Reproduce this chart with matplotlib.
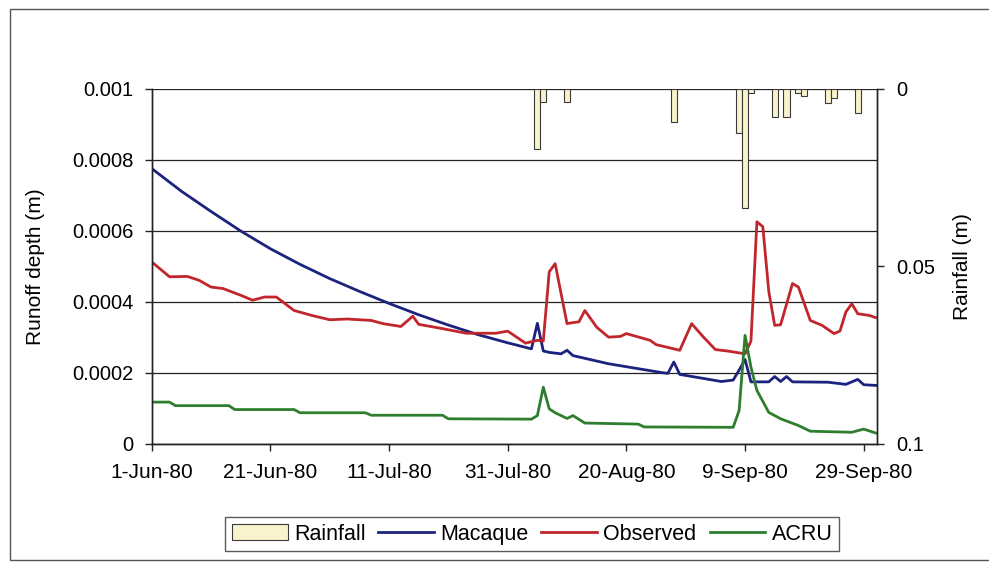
import matplotlib
matplotlib.use('Agg')
import matplotlib.pyplot as plt
import matplotlib.dates as mdates
from matplotlib.patches import Rectangle
from matplotlib.ticker import FixedLocator, FuncFormatter
import pandas as pd

plt.rcParams['font.family'] = ['Liberation Sans', 'DejaVu Sans']

start = pd.Timestamp('1980-06-01')

# days after 1-Jun-80 and values (m)
mac_days = [0, 5, 10, 15, 20, 25, 30, 35, 40, 45, 50, 55, 60, 64, 65, 66, 67, 69, 70, 71,
            77, 86, 87, 88, 89, 96, 98, 99, 100, 101, 104, 105, 106, 107, 108, 114, 117,
            119, 120, 122]
mac_vals = [0.000776, 0.000712, 0.000655, 0.000600, 0.000550, 0.000506, 0.000466, 0.000430,
            0.000396, 0.000364, 0.000335, 0.000308, 0.000285, 0.000268, 0.000340, 0.000262,
            0.000258, 0.000254, 0.000264, 0.000249, 0.000226, 0.000201, 0.000199, 0.000231,
            0.000196, 0.000176, 0.000180, 0.000208, 0.000238, 0.000175, 0.000175, 0.000190,
            0.000176, 0.000190, 0.000175, 0.000174, 0.000168, 0.000182, 0.000167, 0.000165]

obs_days = [0, 3, 6, 8, 10, 12, 15, 17, 19, 21, 24, 27, 30, 33, 37, 39, 42, 44, 45, 49, 53,
            58, 60, 63, 65, 66, 67, 68, 70, 71, 72, 73, 75, 77, 79, 80, 84, 85, 89, 91, 93,
            95, 97, 100, 101, 102, 103, 104, 105, 106, 108, 109, 111, 113, 115, 116, 117,
            118, 119, 121, 122]
obs_vals = [0.000513, 0.000471, 0.000472, 0.000461, 0.000442, 0.000438, 0.000419, 0.000405,
            0.000414, 0.000414, 0.000376, 0.000362, 0.000350, 0.000352, 0.000348, 0.000339,
            0.000331, 0.000360, 0.000337, 0.000325, 0.000312, 0.000312, 0.000318, 0.000284,
            0.000292, 0.000290, 0.000485, 0.000508, 0.000339, 0.000342, 0.000344, 0.000376,
            0.000329, 0.000301, 0.000303, 0.000311, 0.000292, 0.000280, 0.000264, 0.000339,
            0.000301, 0.000266, 0.000262, 0.000254, 0.000290, 0.000626, 0.000612, 0.000430,
            0.000334, 0.000336, 0.000452, 0.000442, 0.000348, 0.000334, 0.000311, 0.000318,
            0.000372, 0.000395, 0.000367, 0.000362, 0.000356]

acru_days = [0, 3, 4, 13, 14, 24, 25, 36, 37, 49, 50, 64, 65, 66, 67, 68, 70, 71, 73, 82,
             83, 98, 99, 100, 101, 102, 104, 106, 109, 111, 118, 120, 122]
acru_vals = [0.000118, 0.000118, 0.000108, 0.000108, 0.000097, 0.000097, 0.000088, 0.000088,
             0.000081, 0.000081, 0.000071, 0.000070, 0.000080, 0.000160, 0.000099, 0.000088,
             0.000072, 0.000080, 0.000059, 0.000056, 0.000048, 0.000047, 0.000094, 0.000306,
             0.000216, 0.000151, 0.000089, 0.000071, 0.000052, 0.000036, 0.000033, 0.000042,
             0.000031]

rain_days = [65, 66, 70, 88, 99, 100, 101, 105, 107, 109, 110, 114, 115, 119]
rain_vals = [0.0169, 0.0036, 0.0038, 0.0092, 0.0125, 0.0335, 0.0012, 0.0080, 0.0080,
             0.0011, 0.0019, 0.0040, 0.0026, 0.0069]

left_ticks = [0, 0.0002, 0.0004, 0.0006, 0.0008, 0.001]
right_ticks = [0, 0.05, 0.1]
date_ticks = pd.date_range(start, periods=7, freq='20D')


def to_dates(days):
    return start + pd.to_timedelta(days, unit='D')


fig = plt.figure(figsize=(9.89, 5.69), dpi=100)
fig.patches.append(Rectangle((0.0101, 0.0158), 1.2, 0.968, transform=fig.transFigure,
                             fill=False, edgecolor='#555555', linewidth=1.0, clip_on=False))

ax = fig.add_axes([0.1534, 0.2197, 0.7331, 0.6239])
ax2 = ax.twinx()

ax.plot(to_dates(mac_days), mac_vals, color='#1c237f', lw=2.0, label='Macaque')
ax.plot(to_dates(obs_days), obs_vals, color='#c0262b', lw=2.0, label='Observed')
ax.plot(to_dates(acru_days), acru_vals, color='#2f7d2f', lw=2.0, label='ACRU')

ax2.bar(to_dates(rain_days), rain_vals, width=1.05, color='#f8f3cc', edgecolor='#3a3a3a',
        linewidth=0.8, label='Rainfall')

ax.set_ylim(0, 0.001)
ax2.set_ylim(0.1, 0)
ax.set_xlim(start, start + pd.Timedelta(days=122.2))

ax.yaxis.set_major_locator(FixedLocator(left_ticks))
ax.yaxis.set_major_formatter(FuncFormatter(lambda v, p: '%g' % v))
ax2.yaxis.set_major_locator(FixedLocator(right_ticks))
ax2.yaxis.set_major_formatter(FuncFormatter(lambda v, p: '%g' % v))
ax.set_xticks(date_ticks)
ax.xaxis.set_major_formatter(mdates.DateFormatter('%-d-%b-%y'))

ax.grid(axis='y', color='#222222', lw=0.9)
ax.set_axisbelow(True)
for a in (ax, ax2):
    a.spines['top'].set_visible(False)
    for s in ('left', 'right', 'bottom'):
        a.spines[s].set_linewidth(1.0)
        a.spines[s].set_color('#222222')
ax.tick_params(axis='both', direction='out', length=5, width=1.0, colors='#222222')
ax.tick_params(axis='y', pad=8, labelsize=14.5)
ax.tick_params(axis='x', pad=9, labelsize=15)
ax2.tick_params(axis='y', direction='out', length=5, width=1.0, labelsize=14.5, pad=9, colors='#222222')
for lab in ax.get_xticklabels() + ax.get_yticklabels() + ax2.get_yticklabels():
    lab.set_color('black')

ax.set_ylabel('Runoff depth (m)', fontsize=15)
ax.yaxis.set_label_coords(-0.147, 0.5)
ax2.set_ylabel('Rainfall (m)', fontsize=15)
ax2.yaxis.set_label_coords(1.105, 0.5)

h2, l2 = ax2.get_legend_handles_labels()
h1, l1 = ax.get_legend_handles_labels()
leg = fig.legend(h2 + h1, l2 + l1, loc='center', bbox_to_anchor=(0.538, 0.0615),
                 ncol=4, fontsize=15.5, frameon=True, fancybox=False, handlelength=2.6,
                 handletextpad=0.28, columnspacing=0.6, borderpad=0.3, borderaxespad=0)
leg.get_frame().set_edgecolor('#333333')
leg.get_frame().set_linewidth(1.0)

plt.savefig('out.png', dpi=100)
